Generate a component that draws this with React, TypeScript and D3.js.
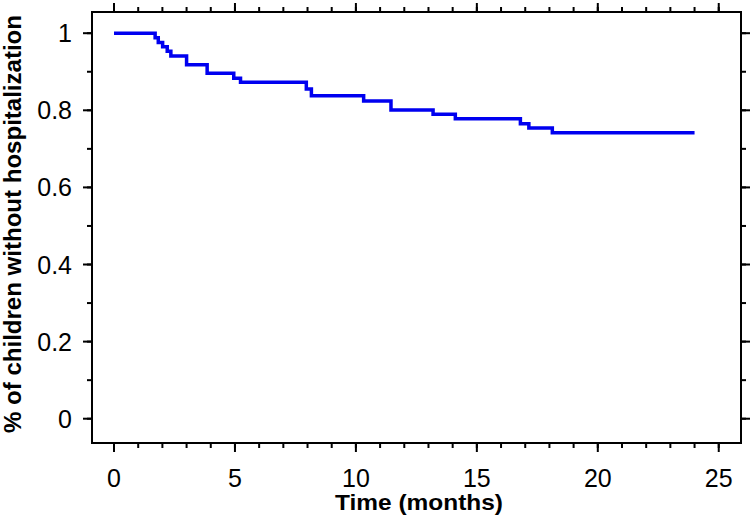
import React from "react";
import * as d3 from "d3";

const times = [0, 1.7, 1.83, 2.01, 2.2, 2.35, 3.0, 3.85, 4.95, 5.23, 7.95, 8.16, 10.32, 11.45, 13.19, 14.11, 16.8, 17.15, 18.12, 24];
const survival = [1, 0.988, 0.976, 0.965, 0.953, 0.941, 0.918, 0.896, 0.883, 0.873, 0.855, 0.838, 0.824, 0.801, 0.79, 0.778, 0.765, 0.754, 0.742, 0.742];
const xMajorTicks = [0, 5, 10, 15, 20, 25];
const xMinorTicks = d3.range(0, 26, 1);
const yMajorTicks = [0, 0.2, 0.4, 0.6, 0.8, 1];
const yMinorTicks = d3.range(0, 11).map((i) => i / 10);
const yTickLabels = ["0", "0.2", "0.4", "0.6", "0.8", "1"];
const xLabel = "Time (months)";
const yLabel = "% of children without hospitalization";

const W = 752;
const H = 525;
const L = 92, R = 741, T = 12, B = 443;

export default function App() {
  const x = d3.scaleLinear().domain([-0.91, 25.92]).range([L, R]);
  const y = d3.scaleLinear().domain([-0.063, 1.055]).range([B, T]);
  const data = times.map((t, i) => [t, survival[i]] as [number, number]);
  const line = d3
    .line<[number, number]>()
    .x((d) => x(d[0]))
    .y((d) => y(d[1]))
    .curve(d3.curveStepAfter);
  const font = "Liberation Sans, Arial, Helvetica, sans-serif";
  const majorLen = 9;
  const minorLen = 5;
  return (
    <svg width={W} height={H} style={{ position: "absolute", left: 0, top: 0, background: "#fff" }}>
      <rect x={0} y={0} width={W} height={H} fill="#fff" />
      {xMinorTicks.map((t) => (
        <g key={"xm" + t} stroke="#000" strokeWidth={2}>
          <line x1={x(t)} x2={x(t)} y1={B} y2={B + minorLen} />
          <line x1={x(t)} x2={x(t)} y1={T} y2={T - minorLen} />
        </g>
      ))}
      {xMajorTicks.map((t) => (
        <g key={"xM" + t} stroke="#000" strokeWidth={2}>
          <line x1={x(t)} x2={x(t)} y1={B} y2={B + majorLen} />
          <line x1={x(t)} x2={x(t)} y1={T} y2={T - majorLen} />
        </g>
      ))}
      {yMinorTicks.map((v) => (
        <g key={"ym" + v} stroke="#000" strokeWidth={2}>
          <line x1={L} x2={L - minorLen} y1={y(v)} y2={y(v)} />
          <line x1={R} x2={R + minorLen} y1={y(v)} y2={y(v)} />
        </g>
      ))}
      {yMajorTicks.map((v) => (
        <g key={"yM" + v} stroke="#000" strokeWidth={2}>
          <line x1={L} x2={L - majorLen} y1={y(v)} y2={y(v)} />
          <line x1={R} x2={R + majorLen} y1={y(v)} y2={y(v)} />
        </g>
      ))}
      <rect x={L} y={T} width={R - L} height={B - T} fill="none" stroke="#000" strokeWidth={2} />
      <path d={line(data) || ""} fill="none" stroke="#0000f0" strokeWidth={3.5} />
      {xMajorTicks.map((t) => (
        <text key={"xl" + t} x={x(t)} y={487} textAnchor="middle" fontFamily={font} fontSize={25} fill="#000">
          {String(t)}
        </text>
      ))}
      {yMajorTicks.map((v, i) => (
        <text key={"yl" + v} x={72} y={y(v) + 9} textAnchor="end" fontFamily={font} fontSize={25} fill="#000">
          {yTickLabels[i]}
        </text>
      ))}
      <text x={419} y={510} textAnchor="middle" fontFamily={font} fontSize={22} fontWeight="bold" fill="#000" textLength={168} lengthAdjust="spacingAndGlyphs">
        {xLabel}
      </text>
      <text
        transform={`translate(21, 224) rotate(-90)`}
        textAnchor="middle"
        fontFamily={font}
        fontSize={23}
        fontWeight="bold"
        fill="#000"
        textLength={418}
        lengthAdjust="spacingAndGlyphs"
      >
        {yLabel}
      </text>
    </svg>
  );
}
